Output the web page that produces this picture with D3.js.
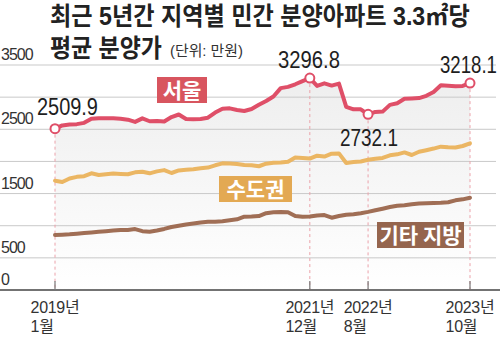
<!DOCTYPE html>
<html><head><meta charset="utf-8">
<script src="https://cdn.jsdelivr.net/npm/d3@7"></script>
<style>
html,body{margin:0;padding:0;background:#fff;}
svg{display:block;font-family:"Noto Sans CJK KR","Noto Sans",sans-serif;}
.lat{font-family:"Liberation Sans","Noto Sans CJK KR",sans-serif;}
</style></head>
<body><svg id="c" width="500" height="341"></svg>
<script>
const seoul = [2510,2560,2575,2580,2600,2665,2670,2672,2670,2665,2650,2615,2670,2625,2630,2620,2690,2730,2660,2655,2660,2680,2760,2820,2826,2800,2785,2815,2880,2940,3010,3140,3160,3200,3250,3296.8,3175,3215,3180,3210,2850,2810,2810,2732.1,2770,2775,2880,2905,2975,2980,2985,3020,3080,3185,3178,3170,3175,3218.1];
const sudo = [1700,1680,1735,1760,1770,1815,1790,1800,1812,1805,1800,1830,1840,1815,1845,1865,1820,1860,1870,1880,1895,1905,1940,1970,1968,1960,1945,1940,1925,1965,1978,1982,1995,2060,2055,2045,2090,2075,2120,2125,1975,1990,2000,2025,2040,2055,2095,2110,2140,2100,2150,2175,2200,2230,2222,2218,2240,2280];
const jibang = [855,860,866,875,885,895,905,915,925,933,935,948,915,905,925,950,980,1000,1020,1035,1050,1060,1060,1070,1085,1100,1140,1142,1150,1195,1210,1215,1210,1150,1140,1145,1160,1165,1125,1150,1170,1180,1195,1215,1240,1265,1290,1310,1320,1335,1345,1350,1355,1357,1365,1395,1410,1435];
const tickIdx = [0,35,43,57];
const tickYear = ["2019년","2021년","2022년","2023년"];
const tickMonth = ["1월","12월","8월","10월"];
const yTicks = [3500,2500,1500,500,0];
const gridVals = [500,1000,1500,2000,2500,3000,3500];
const seriesNames = ["서울","수도권","기타 지방"];
const annotIdx = [0,35,43,57];
const annotText = ["2509.9","3296.8","2732.1","3218.1"];

const svg = d3.select("#c");
const x = d3.scaleLinear().domain([0,57]).range([55,470]);
const y = d3.scaleLinear().domain([0,3500]).range([290,65]);

const cSeoul="#df4f68", cSudo="#ebb663", cJi="#a06e55";
const bSeoul="#d8555f", bSudo="#e3a953", bJi="#95654e";

function fitText(parent, str, tx, ty, width, attrs){
  const t = parent.append("text").attr("x",0).attr("y",0).text(str);
  Object.entries(attrs).forEach(([k,v])=>t.attr(k,v));
  const w = t.node().getComputedTextLength();
  t.attr("transform",`translate(${tx},${ty}) scale(${width/w},1)`);
  return t;
}

const defs = svg.append("defs");
const g = defs.append("linearGradient").attr("id","bg").attr("x1",0).attr("y1",0).attr("x2",0).attr("y2",1);
g.append("stop").attr("offset","0%").attr("stop-color","#eeeeee");
g.append("stop").attr("offset","100%").attr("stop-color","#ffffff");
svg.append("path").datum(seoul)
  .attr("d", d3.area().x((d,i)=>x(i)).y0(y(0)).y1(d=>y(d)))
  .attr("fill","url(#bg)");

svg.append("g").selectAll("line").data(gridVals).join("line")
  .attr("x1",0).attr("x2",496).attr("y1",d=>y(d)).attr("y2",d=>y(d))
  .attr("stroke","#c9c9c9").attr("stroke-width",1);

svg.append("g").selectAll("text").data(yTicks).join("text").attr("class","lat")
  .attr("x",1).attr("y",d=>y(d)-5).text(d=>d)
  .attr("font-size",16).attr("letter-spacing",-1).attr("fill","#333");

svg.append("g").selectAll("line").data(annotIdx).join("line")
  .attr("x1",d=>x(d)).attr("x2",d=>x(d)).attr("y1",d=>y(seoul[d])).attr("y2",y(0))
  .attr("stroke","#eba2aa").attr("stroke-width",1).attr("stroke-dasharray","3,3");

svg.append("line").attr("x1",0).attr("x2",500).attr("y1",y(0)).attr("y2",y(0))
  .attr("stroke","#444").attr("stroke-width",1.5);
svg.append("g").selectAll("line").data(tickIdx).join("line")
  .attr("x1",d=>x(d)).attr("x2",d=>x(d)).attr("y1",y(0)-9).attr("y2",y(0))
  .attr("stroke","#777").attr("stroke-width",1.2);

const xl = svg.append("g").selectAll("g").data(tickIdx).join("g");
xl.each(function(d,i){
  const gg = d3.select(this);
  const t1 = gg.append("text").attr("class","lat").attr("y",313).text(tickYear[i]).attr("font-size",16).attr("letter-spacing",-0.3).attr("fill","#333");
  const w = t1.node().getComputedTextLength();
  const left = Math.min(x(d) - w/2, 497 - w);
  t1.attr("x",left);
  gg.append("text").attr("class","lat").attr("x",left).attr("y",332).text(tickMonth[i]).attr("font-size",16).attr("letter-spacing",-0.3).attr("fill","#333");
});

const line = d3.line().x((d,i)=>x(i)).y(d=>y(d));
[[jibang,cJi],[sudo,cSudo],[seoul,cSeoul]].forEach(([s,c])=>{
  svg.append("path").datum(s).attr("d",line).attr("fill","none")
    .attr("stroke",c).attr("stroke-width",4).attr("stroke-linejoin","round").attr("stroke-linecap","round");
});

svg.append("g").selectAll("circle").data(annotIdx).join("circle")
  .attr("cx",d=>x(d)).attr("cy",d=>y(seoul[d])).attr("r",4.5)
  .attr("fill","#fff").attr("stroke",cSeoul).attr("stroke-width",2);

const annPos = [[37,115,61],[278,68,62],[340,146,58],[440,73,57]];
const ag = svg.append("g");
annotText.forEach((s,i)=>{
  fitText(ag, s, annPos[i][0], annPos[i][1], annPos[i][2], {"class":"lat","font-size":24,"fill":"#1e1e1e"});
});

const boxes = [[157,77,50,26,bSeoul],[219,176,73,26,bSudo],[377,222,87,26,bJi]];
boxes.forEach((b,i)=>{
  svg.append("rect").attr("x",b[0]).attr("y",b[1]).attr("width",b[2]).attr("height",b[3]).attr("fill",b[4]);
  svg.append("text").attr("x",b[0]+b[2]/2).attr("y",b[1]+b[3]/2+7.5)
    .attr("text-anchor","middle").attr("font-size",21).attr("font-weight",700)
    .attr("fill","#fff").text(seriesNames[i]);
});

const tg = svg.append("g");
fitText(tg, "최근 5년간 지역별 민간 분양아파트 3.3㎡당", 50, 25, 420, {"class":"lat","font-size":25,"font-weight":700,"fill":"#222"});
fitText(tg, "평균 분양가", 50, 57, 112, {"class":"lat","font-size":25,"font-weight":700,"fill":"#222"});
fitText(tg, "(단위: 만원)", 170, 56, 73, {"class":"lat","font-size":15,"fill":"#333"});
</script></body></html>
